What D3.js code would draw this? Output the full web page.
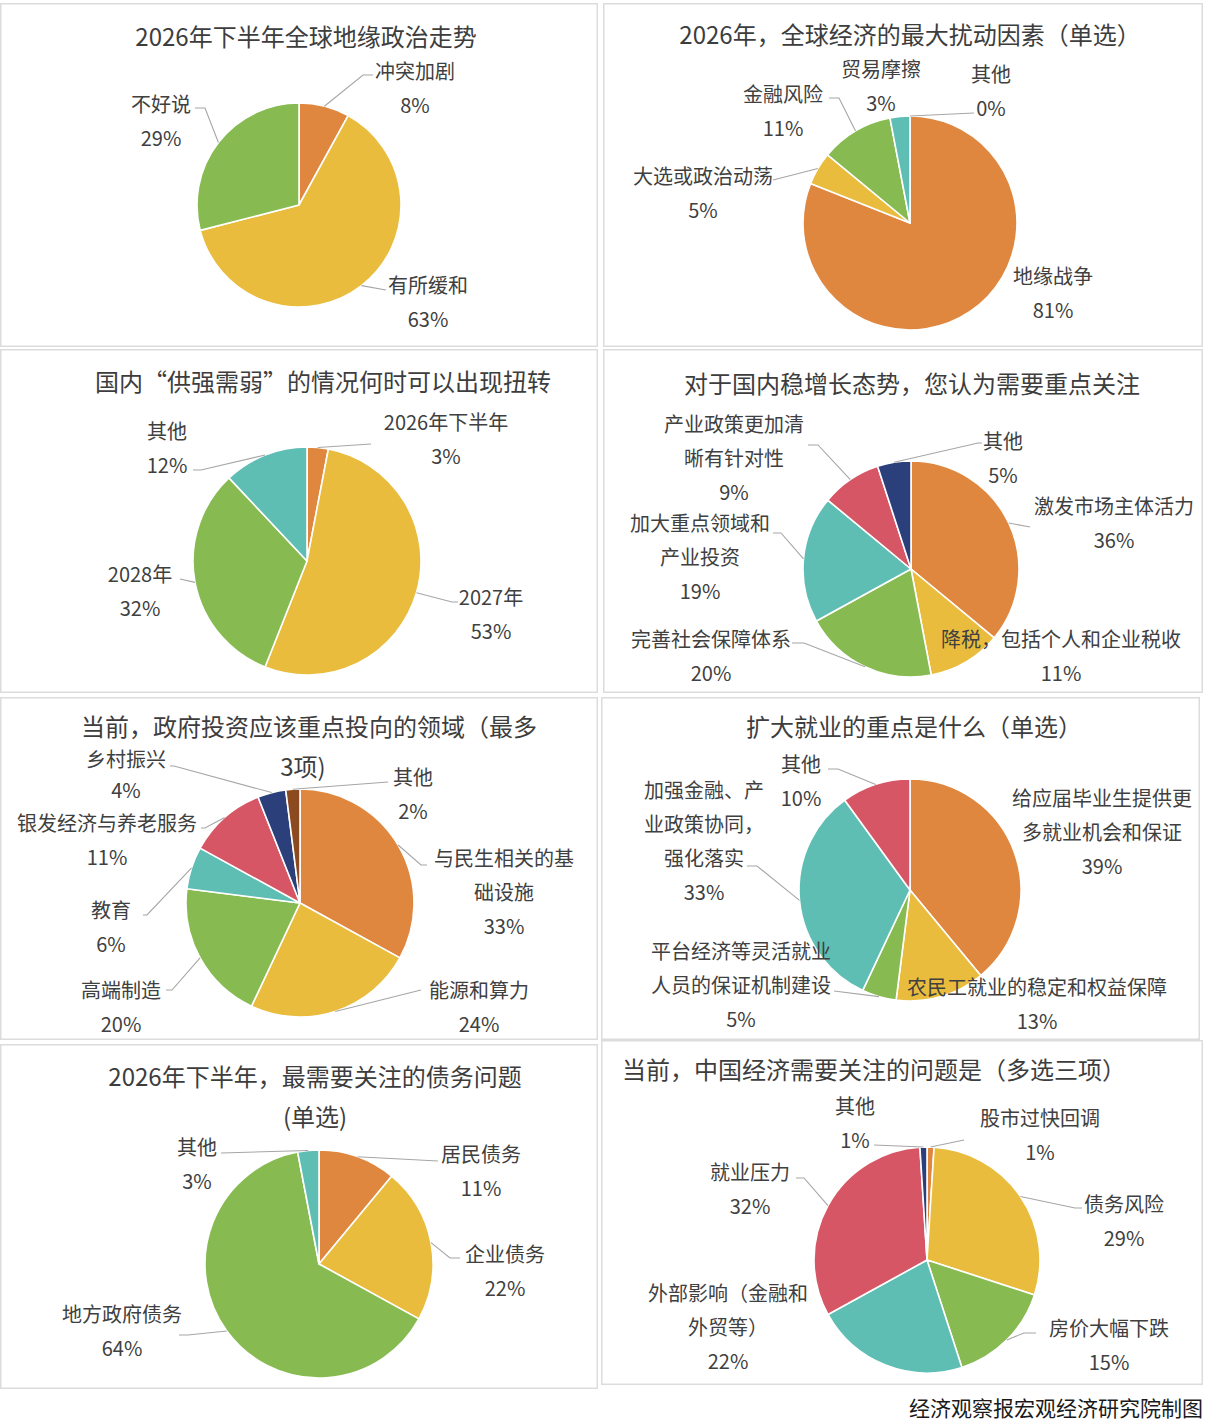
<!DOCTYPE html>
<html><head><meta charset="utf-8">
<script src="https://cdn.jsdelivr.net/npm/d3@7"></script>
<style>body{margin:0;background:#fff}svg{display:block}</style>
</head><body>
<svg id="c" width="1206" height="1428"></svg>
<script>
// ---------- DATA ----------
const titles = [
  "2026年下半年全球地缘政治走势",
  "2026年，全球经济的最大扰动因素（单选）",
  "国内“供强需弱”的情况何时可以出现扭转",
  "对于国内稳增长态势，您认为需要重点关注",
  "当前，政府投资应该重点投向的领域（最多3项)",
  "扩大就业的重点是什么（单选）",
  "2026年下半年，最需要关注的债务问题(单选)",
  "当前，中国经济需要关注的问题是（多选三项）"
];
const cats1 = ["冲突加剧", "有所缓和", "不好说"];
const vals1 = [8, 63, 29];
const cats2 = ["地缘战争", "大选或政治动荡", "金融风险", "贸易摩擦", "其他"];
const vals2 = [81, 5, 11, 3, 0];
const cats3 = ["2026年下半年", "2027年", "2028年", "其他"];
const vals3 = [3, 53, 32, 12];
const cats4 = ["激发市场主体活力", "降税，包括个人和企业税收", "完善社会保障体系", "加大重点领域和产业投资", "产业政策更加清晰有针对性", "其他"];
const vals4 = [36, 11, 20, 19, 9, 5];
const cats5 = ["与民生相关的基础设施", "能源和算力", "高端制造", "教育", "银发经济与养老服务", "乡村振兴", "其他"];
const vals5 = [33, 24, 20, 6, 11, 4, 2];
const cats6 = ["给应届毕业生提供更多就业机会和保证", "农民工就业的稳定和权益保障", "平台经济等灵活就业人员的保证机制建设", "加强金融、产业政策协同，强化落实", "其他"];
const vals6 = [39, 13, 5, 33, 10];
const cats7 = ["居民债务", "企业债务", "地方政府债务", "其他"];
const vals7 = [11, 22, 64, 3];
const cats8 = ["股市过快回调", "债务风险", "房价大幅下跌", "外部影响（金融和外贸等）", "就业压力", "其他"];
const vals8 = [1, 29, 15, 22, 32, 1];
const footerText = "经济观察报宏观经济研究院制图";

const allCats = [cats1, cats2, cats3, cats4, cats5, cats6, cats7, cats8];
const allVals = [vals1, vals2, vals3, vals4, vals5, vals6, vals7, vals8];

// ---------- STYLE ----------
const palette = ["#E0873F", "#E9BC3E", "#87BB51", "#5FBEB3", "#D65665", "#2B3F7A", "#8B4A1F"];
const FONT = "'Noto Sans CJK SC','Noto Sans',sans-serif";
const textColor = "#404040";
const leaderColor = "#a6a6a6";
const lineGap = 34;

// ---------- LAYOUT ----------
const layout = [
  { box: [0, 3, 598, 347], cx: 299, cy: 205, r: 102,
    tWrap: [], tPos: [[306, 35]],
    labels: [
      { x: 415, y: 70, lead: [[363, 75], [373, 75]] },
      { x: 428, y: 284, lead: [[386, 290]] },
      { x: 161, y: 103, lead: [[205, 108], [195, 108]] }
    ] },
  { box: [603, 3, 1203, 347], cx: 910, cy: 223, r: 107,
    tWrap: [], tPos: [[910, 33]],
    labels: [
      { x: 1053, y: 275 },
      { x: 703, y: 175, lead: [[773, 180]] },
      { x: 783, y: 93, lead: [[839, 98], [829, 98]] },
      { x: 881, y: 68 },
      { x: 991, y: 73, lead: [[974, 113]] }
    ] },
  { box: [0, 349, 598, 693], cx: 307, cy: 561, r: 114,
    tWrap: [], tPos: [[323, 380]],
    labels: [
      { x: 446, y: 421, lead: [[371, 444]] },
      { x: 491, y: 596, lead: [[452, 602], [458, 602]] },
      { x: 140, y: 573, lead: [[180, 579]] },
      { x: 167, y: 430, lead: [[201, 470], [193, 470]] }
    ] },
  { box: [603, 349, 1203, 693], cx: 911, cy: 569, r: 108,
    tWrap: [], tPos: [[912, 382]],
    labels: [
      { x: 1114, y: 505, lead: [[1030, 527]] },
      { x: 1061, y: 638 },
      { x: 711, y: 638, lead: [[804, 643], [792, 643]] },
      { x: 700, y: 522, wrap: [7], lead: [[781, 533], [773, 533]] },
      { x: 734, y: 423, wrap: [7], lead: [[818, 445], [808, 445]] },
      { x: 1003, y: 440, lead: [[978, 443], [982, 443]] }
    ] },
  { box: [0, 697, 598, 1040], cx: 300, cy: 903, r: 114,
    tWrap: [19], tPos: [[309, 725], [303, 765]],
    labels: [
      { x: 504, y: 857, wrap: [7], lead: [[421, 865], [427, 865]] },
      { x: 479, y: 989, lead: [[421, 990]] },
      { x: 121, y: 989, lead: [[172, 990], [166, 990]] },
      { x: 111, y: 909, lead: [[147, 915], [143, 915]] },
      { x: 107, y: 822, lead: [[205, 828], [201, 828]] },
      { x: 126, y: 758, gap: 31, lead: [[174, 766], [170, 766]] },
      { x: 413, y: 776, lead: [[388, 782]] }
    ] },
  { box: [601, 697, 1200, 1040], cx: 910, cy: 890, r: 111,
    tWrap: [], tPos: [[914, 725]],
    labels: [
      { x: 1102, y: 797, wrap: [9] },
      { x: 1037, y: 986 },
      { x: 741, y: 950, wrap: [9], lead: [[834, 991]] },
      { x: 704, y: 789, wrap: [6, 12], lead: [[757, 866], [747, 866]] },
      { x: 801, y: 763, lead: [[838, 769], [828, 769]] }
    ] },
  { box: [0, 1044, 598, 1389], cx: 319, cy: 1264, r: 114,
    tWrap: [19], tPos: [[315, 1075], [315, 1115]],
    labels: [
      { x: 481, y: 1153, lead: [[438, 1161]] },
      { x: 505, y: 1253, lead: [[450, 1258], [460, 1258]] },
      { x: 122, y: 1313, lead: [[188, 1335], [179, 1335]] },
      { x: 197, y: 1146, lead: [[221, 1153]] }
    ] },
  { box: [601, 1040, 1203, 1385], cx: 927, cy: 1260, r: 113,
    tWrap: [], tPos: [[874, 1068]],
    labels: [
      { x: 1040, y: 1117, lead: [[964, 1140]] },
      { x: 1124, y: 1203, lead: [[1075, 1208], [1082, 1208]] },
      { x: 1109, y: 1327, lead: [[1024, 1333], [1036, 1333]] },
      { x: 728, y: 1292, wrap: [8] },
      { x: 750, y: 1171, lead: [[804, 1178], [796, 1178]] },
      { x: 855, y: 1105, lead: [[874, 1145]] }
    ] }
];

// ---------- HELPERS ----------
function splitAt(str, idx) {
  const chars = Array.from(str);
  const out = [];
  let prev = 0;
  (idx || []).forEach(i => { out.push(chars.slice(prev, i).join("")); prev = i; });
  out.push(chars.slice(prev).join(""));
  return out;
}

// ---------- DRAW ----------
const svg = d3.select("#c");
svg.append("rect").attr("width", 1206).attr("height", 1428).attr("fill", "#fff");

const pie = d3.pie().sort(null).value(d => d.v).startAngle(0).endAngle(2 * Math.PI);
const line = d3.line();

layout.forEach((L, pi) => {
  const g = svg.append("g");
  const [x0, y0, x1, y1] = L.box;
  g.append("rect").attr("x", x0 + 0.75).attr("y", y0 + 0.75)
    .attr("width", x1 - x0 - 1.5).attr("height", y1 - y0 - 1.5)
    .attr("fill", "#fff").attr("stroke", "#dcdcdc").attr("stroke-width", 1.5);

  // title
  const tLines = splitAt(titles[pi], L.tWrap);
  tLines.forEach((t, i) => {
    g.append("text").attr("x", L.tPos[i][0]).attr("y", L.tPos[i][1])
      .attr("text-anchor", "middle").attr("dominant-baseline", "central")
      .attr("font-family", FONT).attr("font-size", 24).attr("fill", "#3d3d3d")
      .text(t);
  });

  const data = allCats[pi].map((c, i) => ({ c, v: allVals[pi][i], i }));
  const arcs = pie(data);
  const arc = d3.arc().innerRadius(0).outerRadius(L.r);
  const color = d3.scaleOrdinal().domain(allCats[pi]).range(palette);

  const pg = g.append("g").attr("transform", `translate(${L.cx},${L.cy})`);
  pg.selectAll("path").data(arcs.filter(a => a.data.v > 0)).join("path")
    .attr("d", arc).attr("fill", a => color(a.data.c))
    .attr("stroke", "#fff").attr("stroke-width", 1.6).attr("stroke-linejoin", "round");

  // leaders + labels
  arcs.forEach((a, i) => {
    const lab = L.labels[i];
    const mid = (a.startAngle + a.endAngle) / 2;
    if (lab.lead) {
      const s = [L.cx + L.r * Math.sin(mid), L.cy - L.r * Math.cos(mid)];
      g.append("path").attr("d", line([s].concat(lab.lead)))
        .attr("fill", "none").attr("stroke", leaderColor).attr("stroke-width", 1.1);
    }
    const lines = splitAt(a.data.c, lab.wrap);
    lines.push(a.data.v + "%");
    const gap = lab.gap || lineGap;
    lines.forEach((t, k) => {
      g.append("text").attr("x", lab.x).attr("y", lab.y + k * gap)
        .attr("text-anchor", "middle").attr("dominant-baseline", "central")
        .attr("font-family", FONT).attr("font-size", 20).attr("fill", textColor)
        .text(t);
    });
  });
});

svg.append("text").attr("x", 1203).attr("y", 1407)
  .attr("text-anchor", "end").attr("dominant-baseline", "central")
  .attr("font-family", FONT).attr("font-size", 21).attr("fill", "#1a1a1a")
  .text(footerText);
</script>
</body></html>
